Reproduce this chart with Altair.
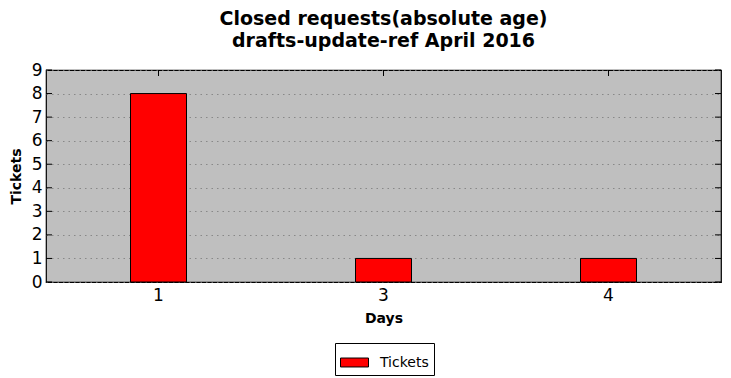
import altair as alt
import pandas as pd

# Closed tickets by age in days
days = ["1", "3", "4"]
tickets = [8, 1, 1]
y_ticks = [0, 1, 2, 3, 4, 5, 6, 7, 8, 9]

W, H = 675, 212
FONT = "DejaVu Sans"

bars_df = pd.DataFrame({"Days": days, "Tickets": tickets, "series": ["Tickets"] * len(days)})
ytick_df = pd.DataFrame({"Tickets": y_ticks})
xtick_df = pd.DataFrame({"Days": days})

x_scale = alt.Scale(domain=days, paddingInner=0, paddingOuter=0)
y_scale = alt.Scale(domain=[0, 9], nice=False)

x_axis = alt.Axis(title="Days", labelAngle=0, ticks=False, domain=False,
                  labelFontSize=17, labelPadding=5, labelFont=FONT, labelColor="black",
                  titleFont=FONT, titleFontSize=14, titleFontWeight="bold",
                  titleColor="black", titlePadding=8, grid=False)
y_axis = alt.Axis(title="Tickets", values=y_ticks, ticks=False, domain=False,
                  labelOverlap=False,
                  labelFontSize=17, labelPadding=4, labelFont=FONT, labelColor="black",
                  titleFont=FONT, titleFontSize=14, titleFontWeight="bold",
                  titleColor="black", titlePadding=8,
                  grid=True, gridColor="#7a7a7a", gridDash=[1.5, 4], gridWidth=0.8)

bars = alt.Chart(bars_df).mark_bar(size=56, stroke="black", strokeWidth=1).encode(
    x=alt.X("Days:N", scale=x_scale, sort=days, axis=x_axis),
    y=alt.Y("Tickets:Q", scale=y_scale, axis=y_axis),
    color=alt.Color("series:N", scale=alt.Scale(domain=["Tickets"], range=["#ff0000"]),
                    legend=alt.Legend(title=None, orient="none", legendX=289, legendY=273,
                                      symbolType="M-1,-0.32L1,-0.32L1,0.32L-1,0.32Z",
                                      symbolSize=784, symbolStrokeColor="black",
                                      symbolStrokeWidth=1, symbolOpacity=1,
                                      labelFont=FONT, labelFontSize=14, labelColor="black",
                                      labelOffset=11, padding=5, strokeColor="black",
                                      fillColor="white", cornerRadius=0)),
)

# inward tick marks on the frame edges
left_ticks = alt.Chart(ytick_df).mark_rule(color="black", strokeWidth=1).encode(
    y=alt.Y("Tickets:Q", scale=y_scale, axis=y_axis), x=alt.value(0), x2=alt.value(6))
right_ticks = alt.Chart(ytick_df).mark_rule(color="black", strokeWidth=1).encode(
    y=alt.Y("Tickets:Q", scale=y_scale, axis=y_axis), x=alt.value(W - 6), x2=alt.value(W))
top_ticks = alt.Chart(xtick_df).mark_rule(color="black", strokeWidth=1).encode(
    x=alt.X("Days:N", scale=x_scale, sort=days, axis=x_axis), y=alt.value(0), y2=alt.value(6))

chart = alt.layer(bars, left_ticks, right_ticks, top_ticks).properties(
    width=W, height=H,
    background="white",
    title=alt.TitleParams(["Closed requests(absolute age)", "drafts-update-ref April 2016"],
                          anchor="middle", font=FONT, fontSize=19, fontWeight="bold",
                          color="black", offset=10, lineHeight=22),
    autosize=alt.AutoSizeParams(type="none"),
    padding={"left": 46, "top": 70, "right": 10, "bottom": 96},
).configure_view(fill="#bfbfbf", stroke="black", strokeWidth=1.2)

chart.save("out.html", embed_options={"renderer": "svg", "actions": False})
